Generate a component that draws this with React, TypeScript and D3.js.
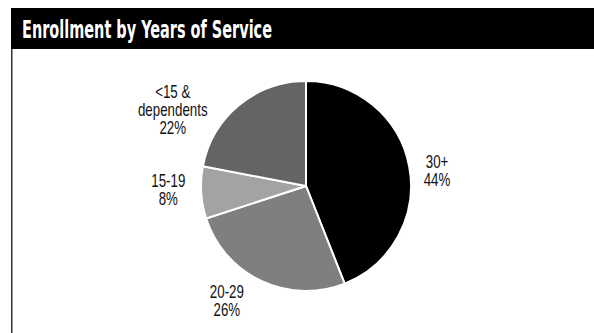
import React from "react";
import * as d3 from "d3";

const categories: string[] = ["30+", "20-29", "15-19", "<15 & dependents"];
const shares: number[] = [44, 26, 8, 22];
const labelLines: string[][] = [["30+", "44%"], ["20-29", "26%"], ["15-19", "8%"], ["<15 &", "dependents", "22%"]];
const title = "Enrollment by Years of Service";

const W = 594;
const H = 333;
const colors = ["#000000", "#7f7f7f", "#a3a3a3", "#646464"];
// layout nudges for the first baseline of each label block, relative to a label arc
const labelNudge: [number, number][] = [[-6.5, 8], [-19.5, -15], [2, -8], [-44, 20]];
const LABEL_FONT = "'Liberation Sans', Arial, sans-serif";
const TITLE_FONT = "'DejaVu Sans Condensed', 'Liberation Sans', sans-serif";

export default function App() {
  const cx = 306;
  const cy = 186;
  const r = 105;
  const pie = d3.pie<number>().sort(null).value((d) => d).startAngle(0).endAngle(2 * Math.PI);
  const arcs = pie(shares);
  const arc = d3.arc<d3.PieArcDatum<number>>().innerRadius(0).outerRadius(r);
  const labelArc = d3.arc<d3.PieArcDatum<number>>().innerRadius(140).outerRadius(140);
  const lineH = 18;
  const sx = 0.74;

  return (
    <svg width={W} height={H} style={{ position: "absolute", left: 0, top: 0 }}>
      <rect x={0} y={0} width={W} height={H} fill="#ffffff" />
      <rect x={11} y={8} width={W - 11} height={41} fill="#000000" />
      <text
        x={22}
        y={37.5}
        fill="#ffffff"
        fontFamily={TITLE_FONT}
        fontWeight="bold"
        fontSize={25}
        textLength={250}
        lengthAdjust="spacingAndGlyphs"
      >
        {title}
      </text>
      <line x1={11.75} x2={11.75} y1={49} y2={H} stroke="#333333" strokeWidth={1.5} />
      <g transform={`translate(${cx},${cy})`}>
        {arcs.map((a, i) => (
          <path key={categories[i]} d={arc(a) || ""} fill={colors[i]} stroke="#ffffff" strokeWidth={2} strokeLinejoin="miter" />
        ))}
        {arcs.map((a, i) => {
          const [lx, ly] = labelArc.centroid(a);
          const lines = labelLines[i];
          const x = lx + labelNudge[i][0];
          const y0 = ly + labelNudge[i][1];
          return (
            <g key={"l" + i} transform={`translate(${x},${y0}) scale(${sx},1)`}>
              <text textAnchor="middle" fontFamily={LABEL_FONT} fontSize={18} fill="#111111">
                {lines.map((t, j) => (
                  <tspan key={j} x={0} y={j * lineH}>
                    {t}
                  </tspan>
                ))}
              </text>
            </g>
          );
        })}
      </g>
    </svg>
  );
}
